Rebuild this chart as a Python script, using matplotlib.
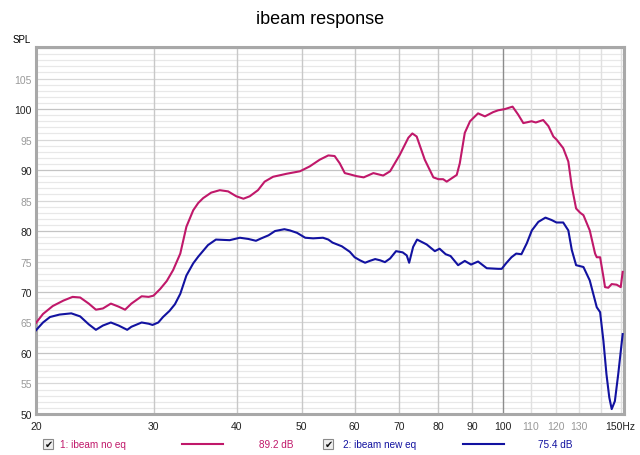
import matplotlib
matplotlib.use("Agg")
import matplotlib.pyplot as plt
from matplotlib.patches import Rectangle
from matplotlib.lines import Line2D

plt.rcParams["font.family"] = ["Liberation Sans", "DejaVu Sans"]

# curve 1: ibeam no eq (Hz, dB SPL)
noeq_freq = [20.0, 20.5, 21.2, 22.0, 22.7, 23.3, 24.0, 24.6, 25.2, 25.9, 26.6, 27.2,
             27.8, 28.8, 29.5, 30.0, 30.7, 31.4, 32.1, 32.9, 33.6, 34.4, 35.0, 35.6,
             36.6, 37.7, 38.8, 39.9, 40.9, 41.8, 43.0, 44.0, 45.3, 47.5, 49.7, 51.4,
             53.2, 54.8, 56.0, 57.0, 58.0, 59.0, 60.4, 61.9, 64.0, 66.2, 67.8, 70.1,
             72.2, 73.2, 74.3, 76.4, 78.7, 80.1, 81.4, 82.4, 85.3, 86.2, 87.7, 89.3,
             91.8, 94.0, 96.7, 98.4, 100.7, 103.4, 105.4, 107.3, 110.4, 112.0, 114.9,
             117.0, 119.0, 120.3, 123.1, 125.3, 126.8, 128.7, 130.5, 132.0, 134.9,
             137.4, 138.2, 139.8, 141.4, 142.2, 143.8, 145.5, 148.0, 150.1, 151.1]
noeq_spl = [64.9, 66.4, 67.7, 68.6, 69.2, 69.1, 68.1, 67.1, 67.3, 68.1, 67.6, 67.1,
            68.1, 69.3, 69.2, 69.4, 70.5, 71.8, 73.6, 76.3, 80.7, 83.4, 84.6, 85.4,
            86.3, 86.7, 86.5, 85.7, 85.3, 85.7, 86.7, 88.1, 88.9, 89.4, 89.8, 90.6,
            91.7, 92.4, 92.3, 91.1, 89.5, 89.3, 89.0, 88.8, 89.5, 89.1, 89.8, 92.5,
            95.3, 96.0, 95.5, 91.7, 88.8, 88.5, 88.5, 88.1, 89.2, 91.1, 96.1, 98.0,
            99.3, 98.8, 99.5, 99.8, 100.0, 100.4, 99.1, 97.7, 98.0, 97.8, 98.2,
            97.2, 95.5, 95.0, 93.6, 91.4, 87.3, 83.7, 83.0, 82.6, 80.1,
            76.3, 75.7, 75.7, 72.5, 70.8, 70.7, 71.3, 71.2, 70.8, 73.3]

# curve 2: ibeam new eq
neweq_freq = [20.0, 20.5, 21.0, 21.7, 22.6, 23.3, 24.0, 24.6, 25.2, 25.9, 26.6, 27.4,
              27.8, 28.8, 29.5, 29.9, 30.5, 31.0, 31.7, 32.3, 32.9, 33.6, 34.4, 35.0,
              36.2, 37.2, 39.0, 40.4, 41.6, 42.7, 43.5, 44.6, 45.6, 47.1, 48.0, 49.2,
              50.6, 52.0, 53.8, 54.8, 55.6, 57.4, 59.0, 60.0, 61.1, 62.2, 63.2, 64.4,
              65.5, 66.6, 67.8, 69.2, 70.8, 71.8, 72.4, 73.4, 74.4, 76.9, 79.1, 80.4,
              82.1, 83.5, 85.7, 87.7, 89.6, 91.8, 94.6, 98.4, 99.6, 101.1, 103.0, 104.7,
              106.6, 108.6, 110.5, 113.0, 115.8, 118.3, 120.3, 123.1, 125.3, 126.8,
              128.7, 132.0, 134.9, 138.2, 139.8, 141.4, 142.9, 144.3, 145.5, 147.1,
              148.8, 151.1]
neweq_spl = [63.7, 65.0, 65.9, 66.3, 66.5, 66.0, 64.7, 63.8, 64.5, 65.0, 64.5, 63.8,
             64.3, 65.0, 64.8, 64.6, 65.0, 65.9, 66.9, 68.0, 69.7, 72.7, 74.7, 75.8,
             77.7, 78.6, 78.5, 78.9, 78.7, 78.4, 78.8, 79.3, 80.0, 80.3, 80.1, 79.7,
             78.9, 78.8, 78.9, 78.6, 78.1, 77.5, 76.6, 75.7, 75.2, 74.8, 75.1, 75.4,
             75.2, 74.9, 75.5, 76.7, 76.5, 76.0, 74.8, 77.4, 78.6, 77.8, 76.7, 77.1,
             76.2, 75.9, 74.4, 75.1, 74.5, 75.0, 73.9, 73.8, 73.8, 74.7, 75.7, 76.3,
             76.2, 78.0, 80.1, 81.5, 82.2, 81.8, 81.4, 81.4, 80.1, 76.9,
             74.4, 74.1, 71.9, 67.5, 66.7, 62.0, 56.5, 52.7, 50.8, 52.1,
             56.5, 63.1]

legend_names = ["1: ibeam no eq", "2: ibeam new eq"]
legend_levels = ["89.2 dB", "75.4 dB"]
colors = ["#c0186a", "#1212a0"]

x_ticks = [20, 30, 40, 50, 60, 70, 80, 90, 100, 110, 120, 130, 150]
x_labels = ["20", "30", "40", "50", "60", "70", "80", "90", "100", "110", "120", "130", "150Hz"]
y_ticks = list(range(50, 110, 5))

fig = plt.figure(figsize=(6.4, 4.56), dpi=100)
ax = fig.add_axes([0.056, 0.09, 0.919, 0.805])
ax.set_xscale("log")
ax.set_xlim(20, 151.8)
ax.set_ylim(50, 110.2)

# grid: 1 dB minor, 5 dB medium, 10 dB major
for v in range(51, 111):
    c = "#c4c4c4" if v % 10 == 0 else ("#d8d8d8" if v % 5 == 0 else "#e8e8e8")
    ax.axhline(v, color=c, lw=0.9, zorder=0)
for f in range(30, 151, 10):
    if f == 100:
        c = "#8c8c8c"
    elif f > 100:
        c = "#e0e0e0"
    else:
        c = "#c8c8c8"
    ax.axvline(f, color=c, lw=1.0, zorder=0)

ax.plot(noeq_freq, noeq_spl, color=colors[0], lw=1.5, zorder=3,
        solid_joinstyle="round")
ax.plot(neweq_freq, neweq_spl, color=colors[1], lw=1.5, zorder=3,
        solid_joinstyle="round")

ax.set_xticks(x_ticks)
ax.set_xticklabels(x_labels)
ax.xaxis.set_minor_locator(matplotlib.ticker.NullLocator())
ax.set_yticks(y_ticks)
ax.set_yticklabels([str(v) for v in y_ticks])
ax.tick_params(length=0, labelsize=7.5)
ax.tick_params(axis="x", pad=5)
ax.tick_params(axis="y", pad=3)
for t, v in zip(ax.get_xticklabels(), x_ticks):
    t.set_color("#999999" if 100 < v < 150 else "#222222")
for t, v in zip(ax.get_yticklabels(), y_ticks):
    t.set_color("#222222" if v % 10 == 0 else "#999999")

for s in ax.spines.values():
    s.set_color("#a8a8a8")
    s.set_linewidth(2.2)

fig.text(0.5, 0.958, "ibeam response", ha="center", va="center", fontsize=13)
fig.text(0.019, 0.912, "SPL", ha="left", va="center", fontsize=7)

# legend row: checkbox, name, line sample, level
rows = [(0.075, 0.094, 0.284, 0.349, 0.432), (0.513, 0.536, 0.723, 0.788, 0.868)]
y = 0.024
bw, bh = 0.0156, 0.0219
for (bx, tx, lx0, lx1, vx), name, lvl, col in zip(rows, legend_names, legend_levels, colors):
    fig.add_artist(Rectangle((bx - bw / 2, y - bh / 2), bw, bh, transform=fig.transFigure,
                             facecolor="#eeeeee", edgecolor="#8a8a8a", lw=0.8))
    fig.text(bx + 0.001, y, "\u2714", ha="center", va="center", fontsize=7,
             color="#111111", family=["DejaVu Sans"])
    fig.text(tx, y, name, ha="left", va="center", fontsize=7.2, color=col)
    fig.add_artist(Line2D([lx0, lx1], [y, y], color=col, lw=1.5,
                          transform=fig.transFigure))
    fig.text(vx, y, lvl, ha="center", va="center", fontsize=7.2, color=col)

fig.savefig("out.png", dpi=100)
